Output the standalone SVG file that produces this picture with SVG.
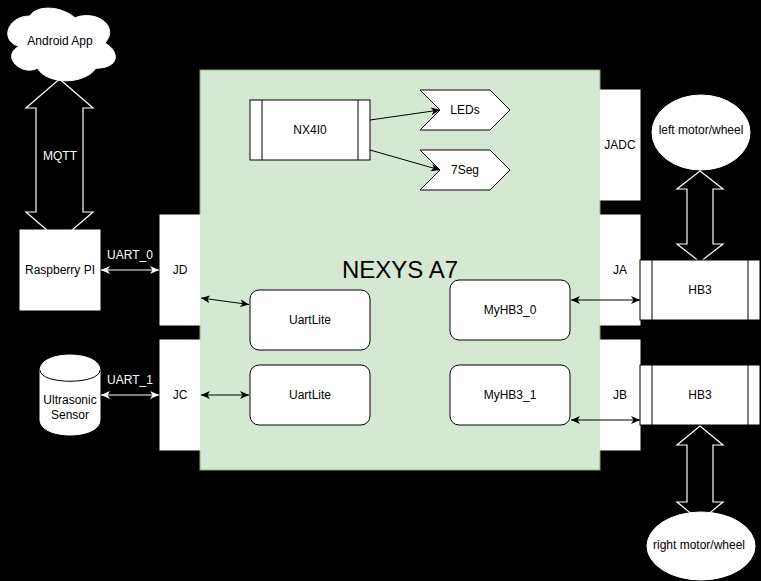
<svg xmlns="http://www.w3.org/2000/svg" width="761" height="581" viewBox="0 0 761 581">
<defs>
<style>
text{font-family:"Liberation Sans",Arial,Helvetica,sans-serif;font-size:12px;fill:#000;text-anchor:middle}
.box{fill:#fff;stroke:#000;stroke-width:1}
.port{fill:#fff;stroke:#fff;stroke-width:1}
.big{fill:#000;stroke:#fff;stroke-width:1.2}
.cb{fill:none;stroke:#000;stroke-width:1}
.cw{fill:none;stroke:#fff;stroke-width:1}
.lw{fill:#fff}
</style>
<marker id="ab" viewBox="0 0 9 8" refX="9" refY="4" markerWidth="9" markerHeight="8" markerUnits="userSpaceOnUse" orient="auto-start-reverse"><path d="M0,0 L9,4 L0,8 L2.5,4 Z" fill="#000"/></marker>
<marker id="aw" viewBox="0 0 9 8" refX="9" refY="4" markerWidth="9" markerHeight="8" markerUnits="userSpaceOnUse" orient="auto-start-reverse"><path d="M0,0 L9,4 L0,8 L2.5,4 Z" fill="#fff"/></marker>
</defs>
<rect x="0" y="0" width="761" height="581" fill="#000"/>

<g id="nexys">
<rect x="200" y="70" width="400" height="400" fill="#d5e8d4" stroke="#82b366"/>
<text x="400" y="278" style="font-size:24px">NEXYS A7</text>
</g>

<g id="mqtt">
<polygon class="big" points="59.5,79 93,108 83,108 83,212 93,212 59.5,241 26,212 36,212 36,108 26,108"/>
<text class="lw" x="60" y="160">MQTT</text>
</g>
<g id="left-arrow">
<polygon class="big" points="700,171 723,189 713,189 713,244 723,244 700,262 677,244 687,244 687,189 677,189"/>
</g>
<g id="right-arrow">
<polygon class="big" points="700,426 723,445 713,445 713,502 723,502 700,521 677,502 687,502 687,445 677,445"/>
</g>

<g id="android">
<path class="port" d="M30,16 C6,16 0,42 19.2,46.2 C0,56 21.6,76.6 37.2,68.2 C48,85 84,85 96,68.2 C120,68.2 120,51.4 105,43 C120,26.2 96,9.4 75,17.8 C60,5.2 36,5.2 30,16 Z"/>
<text x="60" y="45">Android App</text>
</g>

<g id="raspberry">
<rect class="port" x="20" y="230" width="80" height="80"/>
<text x="60" y="274">Raspberry PI</text>
</g>

<g id="sensor">
<path class="port" d="M40,370 C40,350 100,350 100,370 L100,420 C100,440 40,440 40,420 Z"/>
<path class="cb" d="M40,370 C40,385 100,385 100,370"/>
<text x="70" y="404">Ultrasonic</text>
<text x="70" y="419">Sensor</text>
</g>

<g id="jd"><rect class="port" x="160" y="215" width="40" height="110"/><text x="180" y="274">JD</text></g>
<g id="jc"><rect class="port" x="160" y="340" width="40" height="110"/><text x="180" y="399">JC</text></g>
<g id="jadc"><rect class="port" x="600" y="90" width="40" height="110"/><text x="620" y="149">JADC</text></g>
<g id="ja"><rect class="port" x="600" y="215" width="40" height="110"/><text x="620" y="274">JA</text></g>
<g id="jb"><rect class="port" x="600" y="340" width="40" height="110"/><text x="620" y="399">JB</text></g>

<g id="nx4io">
<rect class="box" x="250" y="100" width="120" height="60"/>
<line class="cb" x1="262" y1="100" x2="262" y2="160"/>
<line class="cb" x1="358" y1="100" x2="358" y2="160"/>
<text x="310" y="134">NX4I0</text>
</g>

<g id="leds">
<polygon class="box" points="420,90 490,90 510,110 490,130 420,130 440,110"/>
<text x="465" y="114">LEDs</text>
</g>
<g id="seg">
<polygon class="box" points="420,150 490,150 510,170 490,190 420,190 440,170"/>
<text x="465" y="174">7Seg</text>
</g>

<g id="uartlite0"><rect class="box" x="250" y="290" width="120" height="60" rx="9"/><text x="310" y="324">UartLite</text></g>
<g id="uartlite1"><rect class="box" x="250" y="365" width="120" height="60" rx="9"/><text x="310" y="399">UartLite</text></g>
<g id="myhb3_0"><rect class="box" x="450" y="280" width="120" height="60" rx="9"/><text x="510" y="314">MyHB3_0</text></g>
<g id="myhb3_1"><rect class="box" x="450" y="365" width="120" height="60" rx="9"/><text x="510" y="399">MyHB3_1</text></g>

<g id="hb3_top">
<rect class="box" x="640" y="260" width="120" height="60"/>
<line class="cb" x1="652" y1="260" x2="652" y2="320"/>
<line class="cb" x1="748" y1="260" x2="748" y2="320"/>
<text x="700" y="294">HB3</text>
</g>
<g id="hb3_bottom">
<rect class="box" x="640" y="365" width="120" height="60"/>
<line class="cb" x1="652" y1="365" x2="652" y2="425"/>
<line class="cb" x1="748" y1="365" x2="748" y2="425"/>
<text x="700" y="399">HB3</text>
</g>

<g id="left-motor">
<ellipse class="port" cx="701" cy="132.5" rx="49" ry="37.5"/>
<text x="701" y="134">left motor/wheel</text>
</g>
<g id="right-motor">
<ellipse class="port" cx="701" cy="546" rx="54" ry="34"/>
<text x="699" y="549">right motor/wheel</text>
</g>

<g id="connectors">
<line class="cw" x1="101" y1="270" x2="159" y2="270" marker-start="url(#aw)" marker-end="url(#aw)"/>
<text class="lw" x="130" y="259">UART_0</text>
<line class="cw" x1="101" y1="395" x2="159" y2="395" marker-start="url(#aw)" marker-end="url(#aw)"/>
<text class="lw" x="130" y="384">UART_1</text>
<line class="cb" x1="201" y1="298" x2="249" y2="304.5" marker-start="url(#ab)" marker-end="url(#ab)"/>
<line class="cb" x1="201" y1="395" x2="249" y2="395" marker-start="url(#ab)" marker-end="url(#ab)"/>
<line class="cb" x1="571" y1="300" x2="640" y2="300" marker-start="url(#ab)" marker-end="url(#ab)"/>
<line class="cb" x1="571" y1="420" x2="640" y2="420" marker-start="url(#ab)" marker-end="url(#ab)"/>
<line class="cb" x1="370" y1="120" x2="440" y2="110" marker-end="url(#ab)"/>
<line class="cb" x1="370" y1="150" x2="440" y2="170" marker-end="url(#ab)"/>
</g>
</svg>
